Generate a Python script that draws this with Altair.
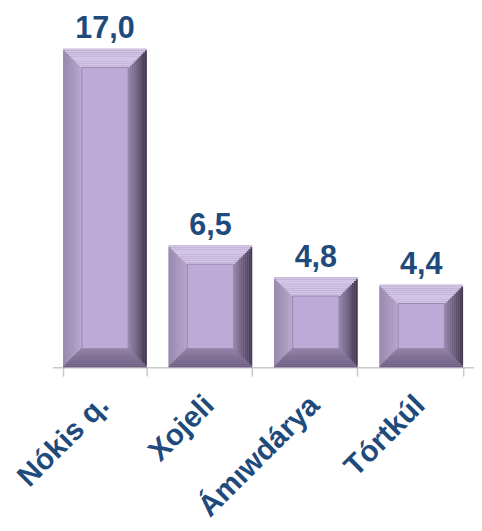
import altair as alt
import pandas as pd

# ---- data ----
categories = ["Nókis q.", "Xojeli", "Ámıwdárya", "Tórtkúl"]
values = [17.0, 6.5, 4.8, 4.4]
value_labels = [f"{v:.1f}".replace(".", ",") for v in values]

df = pd.DataFrame({"cat": categories, "v": values, "lab": value_labels})

# ---- styling ----
TEXT_COLOR = "#1f4a7c"
FONT = "Liberation Sans"
W = 85          # bar width (px)
B = 19          # bevel width (px)
N = 10          # bevel steps
STEP = B / N


def mix(c1, c2, t):
    a = [int(c1[i:i + 2], 16) for i in (1, 3, 5)]
    b = [int(c2[i:i + 2], 16) for i in (1, 3, 5)]
    return "#" + "".join(f"{round(a[k] + (b[k] - a[k]) * t):02x}" for k in range(3))


x_enc = alt.X(
    "cat:N",
    sort=categories,
    scale=alt.Scale(paddingInner=0.21, paddingOuter=0.105),
    axis=alt.Axis(
        title=None,
        domainColor="#c8c8c8",
        domainWidth=1.5,
        tickColor="#c8c8c8",
        tickWidth=1.5,
        tickSize=9,
        tickBand="extent",
        labelAngle=-45,
        labelAlign="right",
        labelBaseline="top",
        labelPadding=14,
        labelOffset=-12,
        labelFont=FONT,
        labelFontSize=30,
        labelFontWeight="bold",
        labelColor=TEXT_COLOR,
        labelLimit=400,
        labelOverlap=False,
    ),
)
y_scale = alt.Scale(domain=[0, 18.47], nice=False, zero=True)
y_top = alt.Y("v:Q", scale=y_scale, axis=None)
y_zero = alt.Y(datum=0, scale=y_scale, axis=None)

base = alt.Chart(df)

layers = [
    base.mark_bar(width=W, color="#9586aa").encode(x=x_enc, y=y_top, y2=alt.Y2(datum=0))
]

for i in range(N):
    s = i * STEP
    t = i / (N - 1)
    # top face
    layers.append(
        base.mark_bar(width=W - 2 * s, yOffset=s, y2Offset=s + STEP,
                      color=mix("#d2c3e5", "#d3c5e7", t))
        .encode(x=x_enc, y=y_top, y2=alt.Y2("v"))
    )
    # bottom face
    layers.append(
        base.mark_bar(width=W - 2 * s, yOffset=-(s + STEP), y2Offset=-s,
                      color=mix("#6e5f82", "#9080a5", t))
        .encode(x=x_enc, y=y_zero, y2=alt.Y2(datum=0))
    )
    # left face
    layers.append(
        base.mark_bar(width=STEP, xOffset=-(W / 2) + s + STEP / 2,
                      yOffset=s + STEP, y2Offset=-(s + STEP),
                      color=mix("#9a8ab0", "#baaacf", t))
        .encode(x=x_enc, y=y_top, y2=alt.Y2(datum=0))
    )
    # right face
    layers.append(
        base.mark_bar(width=STEP, xOffset=(W / 2) - s - STEP / 2,
                      yOffset=s + STEP, y2Offset=-(s + STEP),
                      color=mix("#43394f", "#9585a9", t))
        .encode(x=x_enc, y=y_top, y2=alt.Y2(datum=0))
    )

# inner face
layers.append(
    base.mark_bar(width=W - 2 * B, yOffset=B, y2Offset=-B,
                  color="#bcabd6", stroke="#9a89b2", strokeWidth=1)
    .encode(x=x_enc, y=y_top, y2=alt.Y2(datum=0))
)

# value labels
layers.append(
    base.mark_text(dy=-11, baseline="alphabetic", align="center",
                   font=FONT, fontSize=31, fontWeight="bold", color=TEXT_COLOR)
    .encode(x=x_enc, y=y_top, text="lab:N")
)

chart = (
    alt.layer(*layers)
    .properties(
        width=429,
        height=352,
        autosize=alt.AutoSizeParams(type="none"),
        padding={"top": 9, "left": 45, "right": 0, "bottom": 154},
        background="white",
    )
    .configure_view(stroke=None)
)

chart.save("out.html", embed_options={"renderer": "svg", "actions": False})
